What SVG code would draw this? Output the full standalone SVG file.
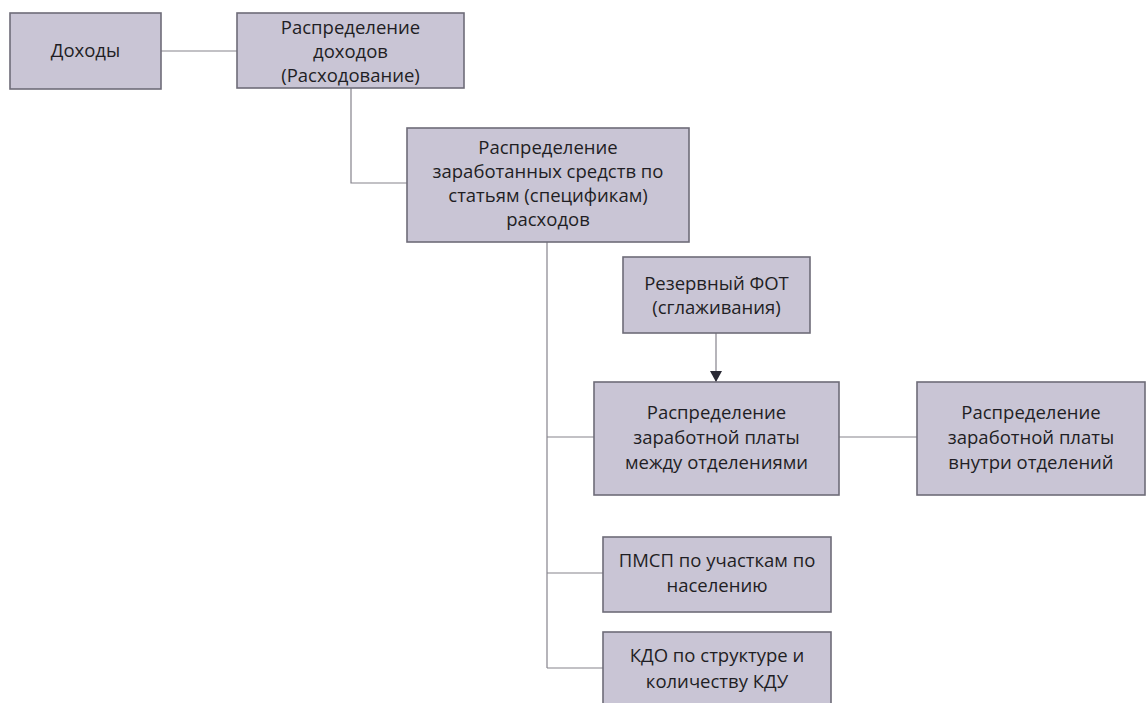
<svg xmlns="http://www.w3.org/2000/svg" width="1146" height="703" viewBox="0 0 1146 703">
<defs>
<style>
.box{fill:#c9c5d5;stroke:#6e6c78;stroke-width:1.6}
.t{font-family:"Open Sans","Liberation Sans",sans-serif;font-size:18.5px;fill:#1f1e24;text-anchor:middle}
.c{fill:none;stroke:#85838c;stroke-width:1.2}
</style>
<marker id="arr" markerWidth="12" markerHeight="12" refX="11" refY="6" orient="auto" markerUnits="userSpaceOnUse">
<path d="M0,0 L11,6 L0,12 Z" fill="#2a2a35"/>
</marker>
</defs>
<rect width="1146" height="703" fill="#ffffff"/>
<g id="connectors">
<line class="c" x1="161" y1="51" x2="237" y2="51"/>
<polyline class="c" points="351,88 351,183 407,183"/>
<line class="c" x1="547" y1="242" x2="547" y2="668"/>
<line class="c" x1="547" y1="437" x2="594" y2="437"/>
<line class="c" x1="547" y1="573" x2="603" y2="573"/>
<line class="c" x1="547" y1="668" x2="603" y2="668"/>
<line class="c" x1="839" y1="437" x2="917" y2="437"/>
<line class="c" x1="716" y1="333" x2="716" y2="382" marker-end="url(#arr)"/>
</g>
<g id="n1">
<rect class="box" x="10" y="13" width="151" height="76"/>
<text class="t" x="85.5" y="57">Доходы</text>
</g>
<g id="n2">
<rect class="box" x="237" y="13" width="227" height="75"/>
<text class="t" x="350.5" y="34">Распределение</text>
<text class="t" x="350.5" y="58">доходов</text>
<text class="t" x="350.5" y="82">(Расходование)</text>
</g>
<g id="n3">
<rect class="box" x="407" y="128" width="282" height="114"/>
<text class="t" x="548" y="154">Распределение</text>
<text class="t" x="548" y="178">заработанных средств по</text>
<text class="t" x="548" y="202">статьям (спецификам)</text>
<text class="t" x="548" y="226">расходов</text>
</g>
<g id="n4">
<rect class="box" x="623" y="257" width="187" height="76"/>
<text class="t" x="716.5" y="290">Резервный ФОТ</text>
<text class="t" x="716.5" y="314">(сглаживания)</text>
</g>
<g id="n5">
<rect class="box" x="594" y="382" width="245" height="113"/>
<text class="t" x="716.5" y="419">Распределение</text>
<text class="t" x="716.5" y="444">заработной платы</text>
<text class="t" x="716.5" y="469">между отделениями</text>
</g>
<g id="n6">
<rect class="box" x="917" y="382" width="228" height="113"/>
<text class="t" x="1031" y="419">Распределение</text>
<text class="t" x="1031" y="444">заработной платы</text>
<text class="t" x="1031" y="469">внутри отделений</text>
</g>
<g id="n7">
<rect class="box" x="603" y="537" width="228" height="75"/>
<text class="t" x="717" y="567">ПМСП по участкам по</text>
<text class="t" x="717" y="592">населению</text>
</g>
<g id="n8">
<rect class="box" x="603" y="632" width="228" height="80"/>
<text class="t" x="717" y="662">КДО по структуре и</text>
<text class="t" x="717" y="688">количеству КДУ</text>
</g>
</svg>
